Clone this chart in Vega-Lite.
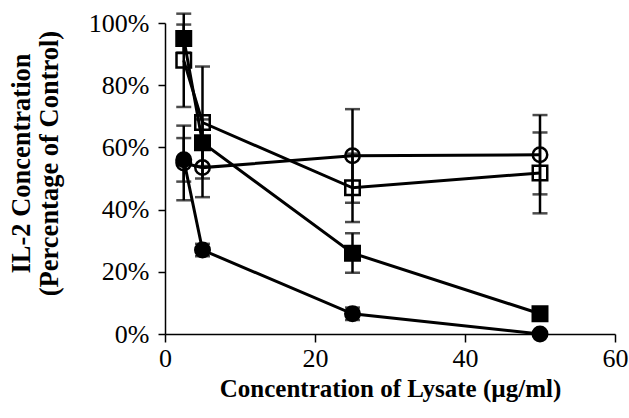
{
  "$schema": "https://vega.github.io/schema/vega-lite/v6.json",
  "width": 450,
  "height": 311,
  "autosize": {"type": "none"},
  "padding": {"left": 165, "top": 23, "right": 14, "bottom": 84},
  "background": "white",
  "config": {"view": {"stroke": null}},
  "data": {
    "values": [
      {"s": "A", "x": 2.5, "y": 95, "lo": 90.5, "hi": 99.5},
      {"s": "A", "x": 5, "y": 61.5, "lo": 54, "hi": 69},
      {"s": "A", "x": 25, "y": 26, "lo": 19.7, "hi": 32.4},
      {"s": "A", "x": 50, "y": 6.5, "lo": 5, "hi": 8},
      {"s": "B", "x": 2.5, "y": 88, "lo": 73, "hi": 103},
      {"s": "B", "x": 5, "y": 68, "lo": 50, "hi": 86},
      {"s": "B", "x": 25, "y": 47, "lo": 36, "hi": 58},
      {"s": "B", "x": 50, "y": 51.8, "lo": 38.8, "hi": 64.8},
      {"s": "C", "x": 2.5, "y": 55, "lo": 43, "hi": 67},
      {"s": "C", "x": 5, "y": 53.5, "lo": 44, "hi": 63},
      {"s": "C", "x": 25, "y": 57.3, "lo": 42.2, "hi": 72.3},
      {"s": "C", "x": 50, "y": 57.6, "lo": 44.9, "hi": 70.4},
      {"s": "D", "x": 2.5, "y": 56, "lo": 49, "hi": 63},
      {"s": "D", "x": 5, "y": 27, "lo": 25, "hi": 29},
      {"s": "D", "x": 25, "y": 6.5, "lo": 4.5, "hi": 8.5},
      {"s": "D", "x": 50, "y": 0, "lo": 0, "hi": 0}
    ]
  },
  "encoding": {
    "x": {
      "field": "x", "type": "quantitative",
      "scale": {"domain": [0, 60], "nice": false, "zero": false},
      "axis": {
        "values": [0, 20, 40, 60],
        "grid": false,
        "domainColor": "black", "domainWidth": 1.5,
        "tickColor": "black", "tickSize": 8, "tickWidth": 1.5,
        "labelFont": "Liberation Serif", "labelFontSize": 26, "labelColor": "black",
        "labelPadding": 3, "labelFlush": false,
        "title": "Concentration of Lysate (µg/ml)",
        "titleFont": "Liberation Serif", "titleFontSize": 25, "titleFontWeight": "bold", "titleColor": "black",
        "titlePadding": 5
      }
    },
    "y": {
      "field": "y", "type": "quantitative",
      "scale": {"domain": [0, 100], "nice": false},
      "axis": {
        "values": [0, 20, 40, 60, 80, 100],
        "labelExpr": "datum.value + '%'",
        "grid": false,
        "domainColor": "black", "domainWidth": 1.5,
        "tickColor": "black", "tickSize": 7, "tickWidth": 1.5,
        "labelFont": "Liberation Serif", "labelFontSize": 26, "labelColor": "black",
        "labelPadding": 9,
        "title": ["IL-2 Concentration", "(Percentage of Control)"],
        "titleFont": "Liberation Serif", "titleFontSize": 26.5, "titleFontWeight": "bold", "titleColor": "black",
        "titleLineHeight": 28,
        "titleAngle": -90,
        "titleBaseline": "top",
        "titleAlign": "center",
        "titleX": -157,
        "titleY": 140
      }
    }
  },
  "layer": [
    {
      "mark": {"type": "line", "color": "black", "strokeWidth": 3},
      "encoding": {"detail": {"field": "s"}}
    },
    {
      "mark": {"type": "rule", "color": "black", "strokeWidth": 2.5},
      "encoding": {"y": {"field": "lo", "type": "quantitative"}, "y2": {"field": "hi"}}
    },
    {
      "mark": {"type": "tick", "color": "black", "orient": "horizontal", "size": 15, "thickness": 2.5},
      "encoding": {"y": {"field": "lo", "type": "quantitative"}}
    },
    {
      "mark": {"type": "tick", "color": "black", "orient": "horizontal", "size": 15, "thickness": 2.5},
      "encoding": {"y": {"field": "hi", "type": "quantitative"}}
    },
    {
      "mark": {"type": "point", "filled": true, "stroke": "black", "strokeWidth": 2.5, "opacity": 1, "size": 210},
      "encoding": {
        "shape": {"field": "s", "type": "nominal", "scale": {"domain": ["A", "B", "C", "D"], "range": ["square", "square", "circle", "circle"]}, "legend": null},
        "fill": {"field": "s", "type": "nominal", "scale": {"domain": ["A", "B", "C", "D"], "range": ["black", "transparent", "transparent", "black"]}, "legend": null}
      }
    }
  ]
}
